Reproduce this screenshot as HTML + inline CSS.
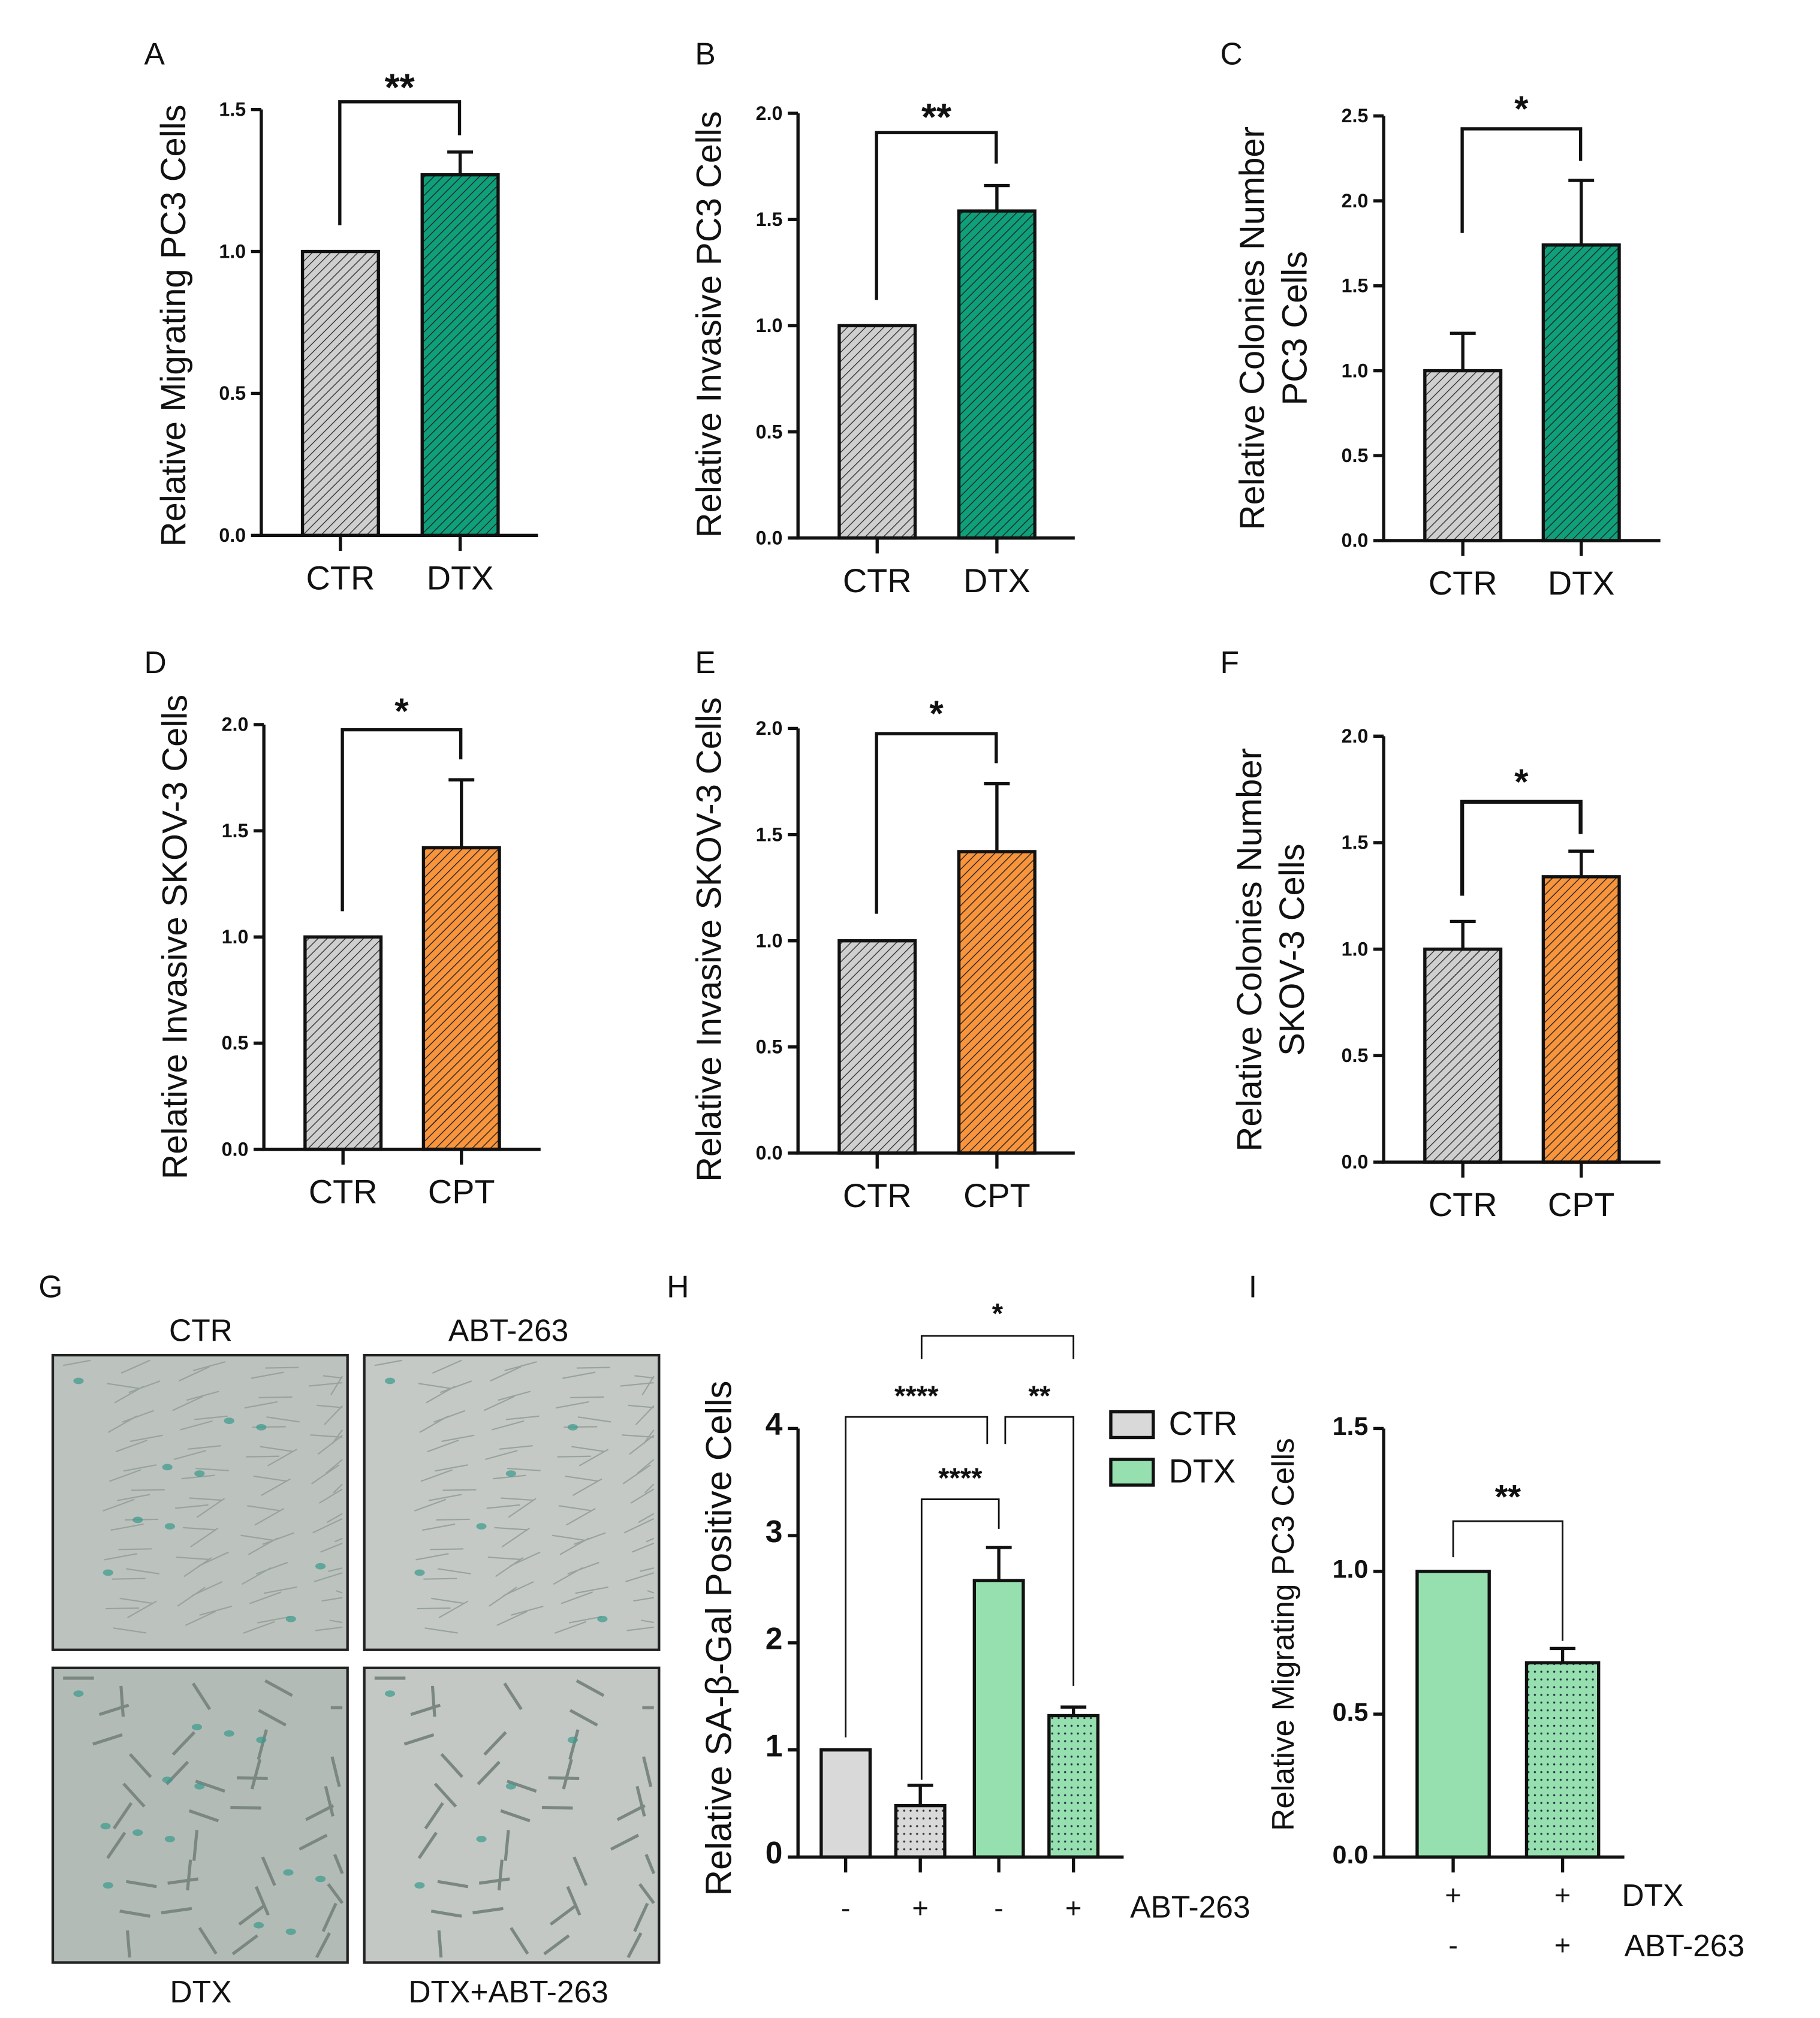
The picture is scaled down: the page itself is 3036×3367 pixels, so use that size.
<!DOCTYPE html>
<html><head><meta charset="utf-8"><style>
html,body{margin:0;padding:0;background:#fff}
svg{display:block}
text{font-family:"Liberation Sans",sans-serif}
</style></head><body>
<svg id="fig" width="3036" height="3367" viewBox="0 0 1414 1568" xmlns="http://www.w3.org/2000/svg">
<defs>
<pattern id="hatchGray" patternUnits="userSpaceOnUse" width="5" height="5" patternTransform="rotate(45)"><rect width="5" height="5" fill="#cfcfcf"/><line x1="0" y1="0" x2="0" y2="5" stroke="#333" stroke-width="1.3"/></pattern>
<pattern id="hatchGreen" patternUnits="userSpaceOnUse" width="5" height="5" patternTransform="rotate(45)"><rect width="5" height="5" fill="#10a075"/><line x1="0" y1="0" x2="0" y2="5" stroke="#124" stroke-width="1.3"/></pattern>
<pattern id="hatchOrange" patternUnits="userSpaceOnUse" width="5" height="5" patternTransform="rotate(45)"><rect width="5" height="5" fill="#f7943c"/><line x1="0" y1="0" x2="0" y2="5" stroke="#222" stroke-width="1.3"/></pattern>
<pattern id="dotGray" patternUnits="userSpaceOnUse" width="5" height="6"><rect width="5" height="6" fill="#d9d9d9"/><circle cx="2.5" cy="3" r="0.8" fill="#333"/></pattern>
<pattern id="dotGreen" patternUnits="userSpaceOnUse" width="5" height="6"><rect width="5" height="6" fill="#96e0b0"/><circle cx="2.5" cy="3" r="0.8" fill="#234"/></pattern>
</defs>
</svg>
<script>
// ---- data ----
const catsA = ['CTR','DTX']; const valsA = [1.0,1.27]; const errA = [0,0.08];
const catsB = ['CTR','DTX']; const valsB = [1.0,1.54]; const errB = [0,0.12];
const catsC = ['CTR','DTX']; const valsC = [1.0,1.74]; const errC = [0.22,0.38];
const catsD = ['CTR','CPT']; const valsD = [1.0,1.42]; const errD = [0,0.32];
const catsE = ['CTR','CPT']; const valsE = [1.0,1.42]; const errE = [0,0.32];
const catsF = ['CTR','CPT']; const valsF = [1.0,1.34]; const errF = [0.13,0.12];
const valsH = [1.0,0.48,2.58,1.32]; const errH = [0,0.19,0.31,0.08];
const catsH = ['-','+','-','+'];
const valsI = [1.0,0.68]; const errI = [0,0.05];
const ticks15 = ['0.0','0.5','1.0','1.5'];
const ticks20 = ['0.0','0.5','1.0','1.5','2.0'];
const ticks25 = ['0.0','0.5','1.0','1.5','2.0','2.5'];
const ticksH = ['0','1','2','3','4'];

const NS='http://www.w3.org/2000/svg';
const svg=document.getElementById('fig');
function mk(tag,attrs,parent,txt){const e=document.createElementNS(NS,tag);for(const k in attrs)e.setAttribute(k,attrs[k]);if(txt!==undefined)e.textContent=txt;(parent||svg).appendChild(e);return e;}

function panel(o){
  const g=mk('g',{});
  
  
  const ymax=parseFloat(o.ticks[o.ticks.length-1]);
  const y=v=>o.y0-(o.y0-o.yTop)*v/ymax;
  const sw=o.sw||2.5;
  o.vals.forEach((v,i)=>{
    const x=o.bx[i];
    const r=mk('rect',{x:x,y:y(v),width:o.bw,height:o.y0-y(v),fill:o.fills[i],stroke:'#111','stroke-width':sw},g);
    
    
    if(o.errs[i]>0){
      const cx=x+o.bw/2;
      const e=mk('path',{d:`M${cx},${y(v)} V${y(v+o.errs[i])} M${cx-10},${y(v+o.errs[i])} H${cx+10}`,stroke:'#111','stroke-width':sw,fill:'none'},g);
      
      
    }
    const cx=x+o.bw/2;
    mk('line',{x1:cx,y1:o.y0,x2:cx,y2:o.y0+12,stroke:'#111','stroke-width':sw},g);
    if(o.cats){
      const t=mk('text',{x:cx,y:o.catY,'font-size':o.catFs||26,'text-anchor':'middle',fill:'#111'},g,o.cats[i]);
      
      
    }
  });
  const ax=mk('path',{d:`M${o.ax},${o.yTop} V${o.y0} H${o.xEnd}`,stroke:'#111','stroke-width':sw,fill:'none'},g);
  
  
  o.ticks.forEach(t=>{
    const yy=y(parseFloat(t));
    mk('line',{x1:o.ax-8,y1:yy,x2:o.ax,y2:yy,stroke:'#111','stroke-width':sw},g);
    const tl=mk('text',{x:o.ax-12,y:yy+5,'font-size':o.tickFs||15,'font-weight':'bold','text-anchor':'end',fill:'#111'},g,t);
    
    
  });
  o.title.forEach((ln,k)=>{
    const tt=mk('text',{x:ln[1],y:o.titleY,'font-size':o.titleFs||27,'text-anchor':'middle',transform:`rotate(-90 ${ln[1]} ${o.titleY})`,fill:'#111'},g,ln[0]);
    
    
  });
  const pl=mk('text',{x:o.lab[0],y:o.lab[1],'font-size':24,fill:'#111'},g,o.lab[2]);
  
  
  return {g,y};
}
function bracket(g,x1,x2,yb,d1,d2,stars,sw,fs,sy){
  const b=mk('path',{d:`M${x1},${d1} V${yb} H${x2} V${d2}`,stroke:'#111','stroke-width':sw,fill:'none'},g);
  
  
  const t=mk('text',{x:(x1+x2)/2,y:sy,'font-size':fs,'font-weight':'bold','text-anchor':'middle',fill:'#111'},g,stars);
  
  
}
const G='url(#hatchGray)',GR='url(#hatchGreen)',OR='url(#hatchOrange)';

let p=panel({name:'panel-a',ax:203,y0:416,yTop:85,xEnd:418,bx:[235,328],bw:59,vals:valsA,errs:errA,cats:catsA,catY:458,fills:[G,GR],ticks:ticks15,title:[['Relative Migrating PC3 Cells',144]],titleY:253,lab:[112,50,'A']});
bracket(p.g,264,357,79,175,105,'**',2.5,30,78);
p=panel({name:'panel-b',ax:620,y0:418,yTop:88,xEnd:835,bx:[652,745],bw:59,vals:valsB,errs:errB,cats:catsB,catY:460,fills:[G,GR],ticks:ticks20,title:[['Relative Invasive PC3 Cells',560]],titleY:252,lab:[540,50,'B']});
bracket(p.g,681,774,103,233,127,'**',2.5,30,101);
p=panel({name:'panel-c',ax:1075,y0:420,yTop:90,xEnd:1290,bx:[1107,1199],bw:59,vals:valsC,errs:errC,cats:catsC,catY:462,fills:[G,GR],ticks:ticks25,title:[['Relative Colonies Number',982],['PC3 Cells',1015]],titleY:255,lab:[948,50,'C']});
bracket(p.g,1136,1228,100,181,125,'*',2.5,28,94);
p=panel({name:'panel-d',ax:205,y0:893,yTop:563,xEnd:420,bx:[237,329],bw:59,vals:valsD,errs:errD,cats:catsD,catY:935,fills:[G,OR],ticks:ticks20,title:[['Relative Invasive SKOV-3 Cells',145]],titleY:728,lab:[112,523,'D']});
bracket(p.g,266,358,567,708,590,'*',2.5,28,562);
p=panel({name:'panel-e',ax:620,y0:896,yTop:566,xEnd:835,bx:[652,745],bw:59,vals:valsE,errs:errE,cats:catsE,catY:938,fills:[G,OR],ticks:ticks20,title:[['Relative Invasive SKOV-3 Cells',560]],titleY:730,lab:[540,523,'E']});
bracket(p.g,681,774,570,710,593,'*',2.5,28,564);
p=panel({name:'panel-f',ax:1075,y0:903,yTop:572,xEnd:1290,bx:[1107,1199],bw:59,vals:valsF,errs:errF,cats:catsF,catY:945,fills:[G,OR],ticks:ticks20,title:[['Relative Colonies Number',980],['SKOV-3 Cells',1013]],titleY:738,lab:[948,523,'F']});
bracket(p.g,1136,1228,623,696,648,'*',3,28,617);

// Panel G micrographs
const gg=mk('g',{});


mk('text',{x:30,y:1008,'font-size':24,fill:'#111'},gg,'G');
const imgs=[[41,1053,'CTR',156,1042,'#bcc2bd'],[283,1053,'ABT-263',395,1042,'#c4c9c5'],[41,1296,'DTX',156,1556,'#b3bbb6'],[283,1296,'DTX+ABT-263',395,1556,'#c3c8c5']];
imgs.forEach((m,i)=>{
  const r=mk('rect',{x:m[0],y:m[1],width:229,height:229,fill:m[5],stroke:'#222','stroke-width':2},gg);
  
  
  const t=mk('text',{x:m[3],y:m[4],'font-size':24,'text-anchor':'middle',fill:'#111'},gg,m[2]);
  
  
  const n=i<2?90:40;
  for(let k=0;k<n;k++){
    const sx=m[0]+8+((k*53)%213), sy=m[1]+8+((k*97)%213);
    const ang=(i<2)?-0.6+((k*7)%10)/12:((k*13)%20)/6;
    const len=i<2?26:24;
    mk('line',{x1:sx,y1:sy,x2:Math.min(m[0]+225,Math.max(m[0]+4,sx+len*Math.cos(ang))),y2:Math.min(m[1]+225,Math.max(m[1]+4,sy+len*Math.sin(ang))),stroke:i<2?'#98a39c':'#7b8882','stroke-width':i<2?1:2.4},gg);
  }
  const nd=[10,6,14,5][i];
  for(let k=0;k<nd;k++){
    mk('ellipse',{cx:m[0]+20+((k*71)%190),cy:m[1]+20+((k*113)%190),rx:4,ry:2.5,fill:'#3a9a8c',opacity:0.7},gg);
  }
});

// Panel H
p=panel({name:'panel-h',ax:620,y0:1443,yTop:1110,xEnd:873,bx:[638,696,757,815],bw:38,vals:valsH,errs:errH,cats:catsH,catY:1490,catFs:22,fills:['#d9d9d9','url(#dotGray)','#96e0b0','url(#dotGreen)'],ticks:ticksH,tickFs:24,title:[['Relative SA-β-Gal Positive Cells',568]],titleY:1273,titleFs:28,lab:[518,1008,'H']});
bracket(p.g,657,767,1101,1350,1122,'****',1.3,22,1092);
bracket(p.g,781,834,1101,1122,1310,'**',1.3,22,1092);
bracket(p.g,716,776,1165,1383,1188,'****',1.3,22,1156);
bracket(p.g,716,834,1038,1056,1056,'*',1.3,22,1028);
let t=mk('text',{x:878,y:1490,'font-size':24,fill:'#111'},p.g,'ABT-263');


[['CTR','#d9d9d9',1097],['DTX','#96e0b0',1134]].forEach(l=>{
  const r=mk('rect',{x:863,y:l[2],width:33,height:20,fill:l[1],stroke:'#111','stroke-width':2.5},p.g);
  
  
  const lt=mk('text',{x:908,y:l[2]+18,'font-size':26,fill:'#111'},p.g,l[0]);
  
  
});

// Panel I
p=panel({name:'panel-i',ax:1075,y0:1443,yTop:1110,xEnd:1262,bx:[1101,1186],bw:56,vals:valsI,errs:errI,fills:['#96e0b0','url(#dotGreen)'],ticks:ticks15,tickFs:20,title:[['Relative Migrating PC3 Cells',1005]],titleY:1270,titleFs:24,lab:[970,1008,'I']});
bracket(p.g,1129,1214,1182,1210,1275,'**',1.3,26,1172);
[['+',1129,1480],['+',1214,1480],['-',1129,1519],['+',1214,1519]].forEach(s=>{
  const st=mk('text',{x:s[1],y:s[2],'font-size':22,'text-anchor':'middle',fill:'#111'},p.g,s[0]);
  
  
});
t=mk('text',{x:1260,y:1481,'font-size':24,fill:'#111'},p.g,'DTX');


t=mk('text',{x:1262,y:1520,'font-size':24,fill:'#111'},p.g,'ABT-263');


</script>
</body></html>
